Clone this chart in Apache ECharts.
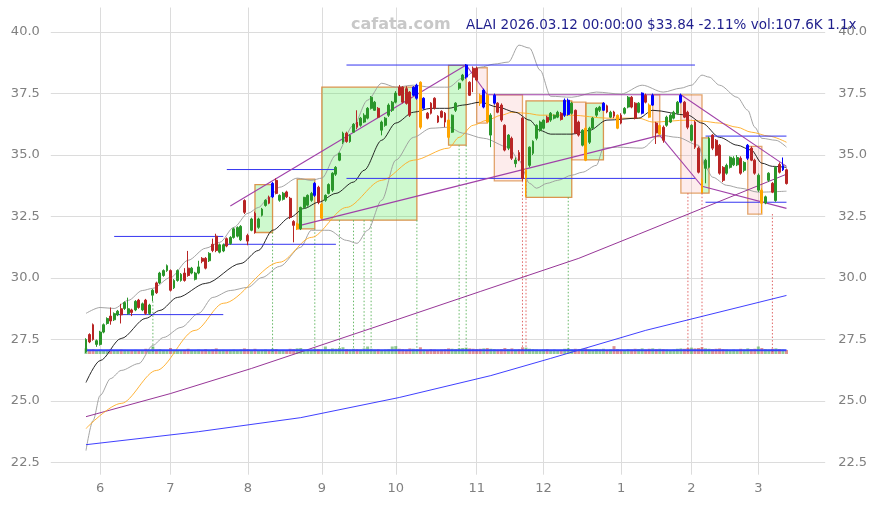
<!DOCTYPE html>
<html><head><meta charset="utf-8">
<script src="https://cdn.jsdelivr.net/npm/echarts@6/dist/echarts.min.js"></script>
<style>html,body{margin:0;padding:0;background:#fff}#c{width:876px;height:505px}</style>
</head><body><div id="c"></div>
<script>
// ---------------- DATA ----------------
const headline = 'ALAI 2026.03.12 00:00:00 $33.84 -2.11% vol:107.6K 1.1x';
const watermark = 'cafata.com';
const firstDay = '2025-05-27';
const tradingDaysCount = 200;
const holidays = ['2025-06-19','2025-07-04','2025-09-01','2025-11-27','2025-12-25','2026-01-01','2026-01-19','2026-02-16'];

// [open, close, low, high]
const candles = [
[27.0,27.5,26.95,27.55],[27.7,27.4,27.35,27.75],[28.1,27.5,27.45,28.15],[27.3,27.45,27.2,27.5],[27.3,27.8,27.25,27.85],
[27.8,28.1,27.75,28.15],[28.15,28.35,28.1,28.4],[28.45,28.25,28.1,28.8],[28.3,28.55,28.25,28.6],[28.5,28.65,28.45,28.7],
[28.75,28.5,28.15,28.95],[28.76,29.0,28.7,29.05],[28.55,28.75,28.5,29.2],[28.7,28.6,28.45,28.75],[28.7,29.05,28.65,29.1],
[29.1,28.8,28.75,29.15],[28.7,28.95,28.65,29.0],[29.1,28.56,28.5,29.15],[28.56,28.9,28.5,28.95],[29.3,29.5,29.05,29.55],
[29.8,29.4,29.35,29.85],[29.8,30.2,29.75,30.25],[30.1,30.3,30.05,30.35],[30.3,30.5,30.25,30.55],[30.3,29.5,29.45,30.35],
[29.6,29.9,29.55,29.95],[29.9,30.3,29.85,30.35],[29.9,30.15,29.85,30.2],[30.2,29.9,29.85,30.4],[30.4,30.1,30.05,31.1],
[30.2,30.4,30.15,30.45],[29.95,30.2,29.9,30.25],[30.2,30.45,30.15,30.7],[30.8,30.68,30.6,30.85],[30.8,30.4,30.35,30.85],
[30.7,31.0,30.65,31.05],[31.37,31.12,31.05,31.6],[31.7,31.12,31.05,31.8],[31.05,31.35,31.0,31.4],[31.1,31.35,31.05,31.4],
[31.6,31.3,31.25,31.65],[31.4,31.65,31.35,31.7],[31.65,32.0,31.6,32.05],[31.7,32.05,31.65,32.1],[31.55,32.1,31.5,32.15],
[33.15,32.67,32.6,33.2],[31.73,31.5,31.33,31.8],[31.94,32.4,31.9,32.45],[32.63,31.85,31.8,32.7],[32.06,32.4,32.0,32.45],
[32.55,32.8,32.5,32.85],[32.95,33.16,32.9,33.2],[33.28,33.04,33.0,33.35],[33.3,33.85,33.25,33.9],[33.97,33.44,33.4,34.05],
[33.16,33.36,33.1,33.4],[33.2,33.45,33.15,33.5],[33.5,33.3,33.25,33.55],[33.24,32.47,32.4,33.3],[32.3,32.14,31.45,32.35],
[32.0,32.2,31.95,32.25],[32.0,32.87,31.95,32.9],[32.87,33.28,32.8,33.3],[32.96,33.36,32.9,33.4],[33.16,33.44,33.1,33.5],
[33.36,33.85,33.3,33.9],[33.69,33.08,33.0,33.75],[32.43,33.0,32.4,33.05],[33.16,33.36,33.1,33.4],[33.44,33.8,33.4,33.85],
[33.57,34.26,33.5,34.3],[34.22,34.5,34.15,34.55],[34.79,35.07,34.75,35.1],[35.52,35.89,35.45,35.95],[35.89,35.55,35.5,35.95],
[35.55,35.8,35.5,35.85],[35.93,36.25,35.9,36.3],[36.34,36.13,36.05,36.82],[36.21,36.5,36.15,36.55],[36.34,36.62,36.3,36.7],
[36.5,36.9,36.45,36.95],[36.9,37.35,36.85,37.4],[36.82,37.15,36.8,37.2],[36.9,36.54,36.5,36.95],[36.01,36.34,35.8,36.4],
[36.21,36.5,36.15,36.55],[36.62,37.03,36.55,37.1],[36.82,37.15,36.75,37.2],[37.15,37.52,37.1,37.6],[37.76,37.43,37.4,37.85],
[37.76,37.15,37.1,37.8],[37.7,37.1,37.05,37.8],[37.56,36.62,36.55,37.6],[37.43,37.76,37.4,37.8],[37.31,37.84,37.25,37.9],
[37.96,36.13,36.05,38.0],[36.9,37.31,36.85,37.35],[36.7,36.5,36.45,36.75],[37.11,36.7,36.65,37.15],[37.31,36.9,36.85,37.35],
[36.58,36.34,36.3,36.62],[36.78,36.54,36.5,36.82],[36.7,36.34,36.13,36.75],[36.42,35.72,35.65,36.45],[35.93,36.62,35.9,36.65],
[36.82,37.11,36.75,37.15],[37.72,37.92,37.65,37.95],[38.05,38.25,38.0,38.3],[38.17,38.66,38.1,38.7],[37.96,37.43,37.4,38.0],
[38.53,38.17,37.56,38.6],[38.53,38.05,38.0,38.6],[37.43,37.11,37.0,37.5],[36.95,37.64,36.9,37.7],[37.43,36.34,36.3,37.5],
[35.81,36.62,35.32,36.7],[37.11,37.43,37.05,37.5],[37.11,36.74,36.7,37.15],[37.03,36.42,36.35,37.1],[36.21,35.2,35.15,36.25],
[35.28,35.81,35.2,35.85],[35.68,34.87,34.8,35.75],[34.65,34.8,34.5,34.9],[35.1,34.8,34.75,35.2],[36.5,34.05,33.95,36.55],
[34.06,34.38,33.3,34.45],[34.58,35.32,34.5,35.35],[35.07,35.56,35.0,35.6],[35.68,36.21,35.6,36.25],[36.01,36.34,35.95,36.4],
[36.09,36.42,36.05,36.45],[36.54,36.34,36.3,36.6],[36.42,36.7,36.35,36.75],[36.5,36.62,36.45,36.65],[36.54,36.74,36.5,36.8],
[36.7,36.45,36.4,36.75],[36.62,37.23,36.55,37.3],[36.65,37.23,36.6,37.3],[36.7,37.11,36.65,37.15],[36.82,35.89,35.85,36.85],
[36.34,35.81,35.75,36.4],[35.4,36.01,35.35,36.05],[36.09,34.79,34.75,36.15],[35.52,36.09,35.45,36.15],[36.09,36.5,36.05,36.55],
[36.62,36.9,36.55,36.95],[36.82,36.95,36.75,37.0],[36.82,37.11,36.8,37.15],[37.0,36.75,36.7,37.05],[36.54,36.74,36.5,36.8],
[36.75,36.58,36.5,36.8],[36.62,36.09,36.05,36.65],[36.62,36.3,36.25,36.7],[36.7,36.9,36.65,36.95],[36.95,37.35,36.9,37.4],
[37.35,36.95,36.9,37.4],[37.11,36.5,36.45,37.15],[36.74,37.11,36.7,37.15],[36.7,37.52,36.65,37.55],[37.43,37.15,37.1,37.5],
[37.03,36.54,36.5,37.1],[37.03,37.43,37.0,37.5],[36.3,35.9,35.45,36.35],[35.85,36.2,35.8,36.25],[36.13,35.6,35.5,36.2],
[36.21,36.54,36.15,36.6],[36.34,36.62,36.3,36.7],[36.5,36.74,36.45,36.8],[36.7,37.15,36.65,37.2],[37.15,37.43,37.1,37.5],
[37.15,36.54,36.5,37.2],[36.74,36.13,36.05,36.8],[35.6,36.21,35.55,36.25],[36.34,35.32,35.25,36.4],[35.28,34.3,34.25,35.35],
[33.97,33.49,33.45,34.05],[34.46,34.79,33.85,34.85],[34.5,35.68,34.45,35.75],[35.81,35.28,35.2,35.85],[35.6,34.99,34.95,35.65],
[35.4,34.26,34.2,35.45],[34.5,33.97,33.9,34.55],[34.26,34.58,34.2,34.65],[34.5,34.91,34.45,34.95],[34.6,34.87,34.55,34.95],
[34.6,34.9,34.55,35.0],[34.87,34.26,34.2,34.95],[34.38,34.7,34.3,34.75],[34.87,35.4,34.8,35.45],[35.28,34.79,34.75,35.35],
[34.79,34.26,34.2,34.85],[33.57,34.18,33.5,34.25],[33.57,33.04,32.63,33.65],[33.05,33.3,33.0,33.35],[33.97,34.26,33.9,34.3],
[33.85,33.49,33.45,33.9],[33.15,34.5,33.1,34.55],[34.62,34.3,34.25,34.7],[34.4,34.57,34.35,34.9],[34.4,33.84,33.8,34.45]
];

// volume in thousands
const volumes = [
150,120,130,110,120,100,110,130,90,100,120,110,100,90,110,100,90,140,110,200,
120,130,110,100,160,110,100,90,110,140,100,90,120,100,130,110,120,150,100,110,
100,110,120,110,120,150,130,110,140,100,110,120,100,140,130,100,110,90,140,130,
150,160,120,110,100,140,130,120,200,130,150,140,160,180,130,120,140,130,120,150,
200,140,120,130,110,120,130,200,210,140,130,120,150,140,130,180,120,110,130,120,
110,120,130,150,140,130,150,160,170,150,140,130,140,150,160,140,130,120,130,160,
130,150,120,130,180,170,140,130,120,110,120,130,110,120,100,110,140,150,120,140,
130,140,150,120,110,130,120,140,110,120,210,130,120,110,130,120,140,130,150,120,
140,150,130,140,130,120,110,120,140,150,140,160,170,150,160,180,150,140,130,140,
150,130,120,110,120,110,140,120,150,130,140,200,160,130,120,140,150,130,120,107.6
];
const volumeAvg = 98;

const blueDays = [53,65,93,94,96,108,113,116,136,137,147,158,161,169,188,198];
const orangeDays = [60,67,95,103,112,114,125,142,151,160,163,175,192];

// moving averages / bands: [day index, value]
const ma20 = [[0,25.75],[4,26.64],[10,27.54],[17,28.36],[21,28.68],[26,29.21],[34,29.78],[44,30.59],[49,31.12],[53,31.94],[58,32.47],[62,32.83],[66,33.08],[71,33.44],[76,33.9],[79,34.38],[84,35.6],[88,36.3],[93,36.74],[98,36.9],[103,36.9],[107,37.03],[112,37.15],[117,36.95],[122,36.74],[126,36.42],[129,36.0],[132,35.85],[138,35.85],[143,36.0],[148,36.42],[157,36.5],[161,36.82],[171,36.62],[175,36.3],[180,35.72],[185,35.4],[189,35.2],[192,34.67],[195,34.54],[199,34.5]];
const ma50 = [[0,23.88],[10,24.9],[20,26.24],[31,27.87],[39,28.97],[55,30.64],[64,31.65],[74,32.87],[84,33.97],[93,34.79],[103,35.28],[106,35.72],[110,36.21],[114,36.42],[118,36.62],[121,36.74],[125,36.7],[129,36.62],[138,36.62],[148,36.5],[157,36.5],[161,36.34],[171,36.42],[175,36.38],[180,36.3],[185,36.13],[189,35.93],[194,35.77],[199,35.52]];
const ma100 = [[0,24.36],[24,25.3],[47,26.32],[81,27.95],[112,29.45],[140,30.8],[157,31.78],[199,34.22]];
const ma200 = [[0,23.22],[32,23.75],[61,24.32],[89,25.14],[115,26.03],[132,26.73],[159,27.87],[199,29.29]];
const bandUpper = [[0,28.56],[4,28.8],[8,28.76],[12,29.09],[16,29.49],[19,29.58],[24,30.02],[29,30.72],[34,31.21],[38,31.45],[42,32.06],[46,32.63],[49,32.87],[52,33.28],[55,33.69],[60,34.06],[64,33.97],[67,34.06],[71,35.0],[76,36.21],[80,37.23],[84,37.92],[88,37.76],[93,37.84],[98,37.76],[103,37.76],[107,38.13],[112,38.57],[116,38.7],[120,38.78],[123,39.47],[126,39.35],[129,38.45],[132,37.39],[138,37.35],[145,37.56],[152,37.48],[158,37.84],[164,37.56],[169,37.72],[172,37.84],[175,38.25],[177,38.17],[180,37.84],[185,37.35],[188,36.82],[190,36.13],[192,35.68],[196,35.6],[199,35.32]];
const bandLower = [[0,22.98],[2,24.2],[4,25.22],[7,25.91],[10,26.24],[15,26.52],[19,27.26],[22,27.58],[27,27.99],[32,28.56],[36,29.21],[41,29.49],[46,29.62],[50,30.02],[55,30.47],[61,31.25],[64,31.94],[69,31.94],[74,31.53],[77,31.41],[80,31.94],[84,33.16],[88,34.79],[93,35.72],[98,36.09],[103,36.13],[107,35.89],[113,35.68],[120,35.32],[123,34.79],[126,33.85],[128,33.65],[131,33.85],[134,33.97],[138,34.18],[141,34.3],[145,34.58],[147,35.28],[151,35.32],[158,35.28],[163,35.81],[168,35.72],[174,35.4],[176,34.5],[178,34.1],[182,33.77],[186,33.65],[191,33.49],[199,33.53]];

// boxes: [fromDay, toDay, low, high]
const greenBoxes = [[48,53,31.85,33.8],[60,65,32.0,34.02],[67,94,32.35,37.76],[103,108,35.4,38.65],[125,138,33.28,37.2],[142,147,34.8,37.11],[175,177,33.45,35.7]];
const redBoxes = [[111,114,36.3,38.55],[116,124,33.95,37.45],[138,142,34.8,37.15],[161,163,35.75,37.45],[169,175,33.45,37.45],[188,192,32.6,35.35]];
// horizontal levels: [fromDay, toDay, value]
const levels = [[8,39,28.51],[8,39,31.69],[39,71,31.37],[40,71,34.41],[74,173,34.05],[74,173,38.66],[176,199,35.77],[176,199,33.08]];
// trend lines: [day0, value0, day1, value1]
const trendLines = [[41,32.93,108,38.66],[60,32.11,163,35.8],[163,35.8,175,33.73],[175,33.73,199,32.83],[114,37.45,169,37.45],[169,37.45,199,34.54],[108,38.66,114,37.45]];
// signals: [day, top value]
const greenSignals = [[19,29.05],[53,31.86],[65,32.0],[72,32.35],[76,32.35],[79,32.35],[81,32.35],[94,32.35],[106,35.4],[108,35.4],[137,33.28]];
const redSignals = [[124,33.95],[125,33.95],[171,33.45],[175,33.45],[195,32.6]];
const signalFloor = 27.0;

// ---------------- BUILD ----------------
function tradingDays(start, n, hol) {
  const out = []; const d = new Date(start + 'T12:00:00Z'); const hs = new Set(hol);
  while (out.length < n) {
    const s = d.toISOString().slice(0,10); const wd = d.getUTCDay();
    if (wd !== 0 && wd !== 6 && !hs.has(s)) out.push(s);
    d.setUTCDate(d.getUTCDate() + 1);
  }
  return out;
}
const dates = tradingDays(firstDay, tradingDaysCount, holidays);
const PAD_L = 10, PAD_R = 11;
const cats = [];
for (let k = 0; k < PAD_L; k++) cats.push('padL' + k);
dates.forEach(d => cats.push(d));
for (let k = 0; k < PAD_R; k++) cats.push('padR' + k);
const monthStarts = new Set();
dates.forEach((d, i) => { if (i > 0 && d.slice(5,7) !== dates[i-1].slice(5,7)) monthStarts.add(i + PAD_L); });
const K = i => i + PAD_L;

const UP = '#2a962a', DOWN = '#b82525', BLUE = '#0000ff', ORANGE = '#ffa500';
const blueSet = new Set(blueDays), orangeSet = new Set(orangeDays);
const candleData = cats.map((c, k) => {
  const i = k - PAD_L;
  if (i < 0 || i >= candles.length) return '-';
  const v = candles[i];
  let col = null;
  if (blueSet.has(i)) col = BLUE; else if (orangeSet.has(i)) col = ORANGE;
  if (col) return { value: v, itemStyle: { color: col, color0: col, borderColor: col, borderColor0: col } };
  return v;
});
const volData = cats.map((c, k) => {
  const i = k - PAD_L;
  if (i < 0 || i >= volumes.length) return '-';
  const up = candles[i][1] >= candles[i][0];
  return { value: volumes[i], itemStyle: { color: up ? 'rgba(40,150,40,0.5)' : 'rgba(190,40,40,0.5)' } };
});
const toPts = arr => arr.map(p => [K(p[0]), p[1]]);

const series = [];
// boxes
series.push({ type: 'line', data: [], z: 1, silent: true,
  markArea: { silent: true, itemStyle: { color: 'rgba(60,230,60,0.25)', borderColor: 'rgba(215,130,50,0.85)', borderWidth: 1.3 },
    data: greenBoxes.map(b => [{ coord: [K(b[0]), b[2]] }, { coord: [K(b[1]), b[3]] }]) } });
series.push({ type: 'line', data: [], z: 1, silent: true,
  markArea: { silent: true, itemStyle: { color: 'rgba(245,150,150,0.18)', borderColor: 'rgba(215,130,50,0.7)', borderWidth: 1.3 },
    data: redBoxes.map(b => [{ coord: [K(b[0]), b[2]] }, { coord: [K(b[1]), b[3]] }]) } });
// signals
greenSignals.forEach(s => series.push({ type: 'line', z: 1, symbol: 'none', silent: true,
  data: [[K(s[0]), s[1]], [K(s[0]), signalFloor]], lineStyle: { color: '#55b055', width: 0.9, type: [1.5, 2] } }));
redSignals.forEach(s => series.push({ type: 'line', z: 1, symbol: 'none', silent: true,
  data: [[K(s[0]), s[1]], [K(s[0]), signalFloor]], lineStyle: { color: '#dd5555', width: 0.9, type: [1.5, 2] } }));
// MA / bands
const lineS = (d, color, w, sm) => ({ type: 'line', z: 2, symbol: 'none', silent: true, smooth: sm, smoothMonotone: 'x',
  data: toPts(d), lineStyle: { color, width: w } });
series.push(lineS(bandUpper, '#9a9a9a', 0.9, 0.3));
series.push(lineS(bandLower, '#9a9a9a', 0.9, 0.3));
series.push(lineS(ma200, '#2a2aff', 0.9, false));
series.push(lineS(ma100, '#8b1f8b', 0.9, false));
series.push(lineS(ma50, '#ffaa22', 0.9, 0.3));
series.push(lineS(ma20, '#111111', 0.9, 0.3));
// levels
levels.forEach(l => series.push({ type: 'line', z: 2, symbol: 'none', silent: true,
  data: [[K(l[0]), l[2]], [K(l[1]), l[2]]], lineStyle: { color: '#3535f0', width: 1 } }));
// trend lines
trendLines.forEach(t => series.push({ type: 'line', z: 2, symbol: 'none', silent: true,
  data: [[K(t[0]), t[1]], [K(t[2]), t[3]]], lineStyle: { color: '#a040a8', width: 1.1 } }));
// candles
series.push({ type: 'candlestick', z: 3, barWidth: 2.4, data: candleData,
  itemStyle: { color: UP, color0: DOWN, borderColor: UP, borderColor0: DOWN, borderWidth: 1 } });
// volume
series.push({ type: 'bar', xAxisIndex: 1, yAxisIndex: 2, barWidth: 3, data: volData, z: 2 });
series.push({ type: 'line', xAxisIndex: 1, yAxisIndex: 2, symbol: 'none', z: 3,
  data: [[K(0), volumeAvg], [K(volumes.length - 1), volumeAvg]], lineStyle: { color: '#3344ff', width: 2 } });

const isMajor = v => Math.abs(v / 2.5 - Math.round(v / 2.5)) < 1e-6;
const yLabel = { color: '#808080', fontSize: 13, fontFamily: 'DejaVu Sans', formatter: v => isMajor(v) ? v.toFixed(1) : '' };
const T = 'rgba(0,0,0,0)';

const option = {
  animation: false,
  backgroundColor: '#ffffff',
  grid: [
    { left: 50.8, width: 774.4, top: 7.5, height: 467.2 },
    { left: 50.8, width: 774.4, top: 324, height: 30 }
  ],
  xAxis: [
    { type: 'category', data: cats, boundaryGap: false, gridIndex: 0,
      axisLine: { show: false }, axisTick: { show: false },
      axisLabel: { interval: (idx) => monthStarts.has(idx), color: '#808080', fontSize: 13, fontFamily: 'DejaVu Sans', margin: 7,
        formatter: v => String(Number(v.slice(5,7))) },
      splitLine: { show: true, interval: (idx) => monthStarts.has(idx), lineStyle: { color: '#dcdcdc', width: 1 } } },
    { type: 'category', data: cats, boundaryGap: false, gridIndex: 1, show: false }
  ],
  yAxis: [
    { type: 'value', min: 22, max: 41, interval: 0.5, gridIndex: 0, position: 'left',
      axisLine: { show: false }, axisTick: { show: false }, axisLabel: Object.assign({ margin: 11 }, yLabel),
      splitLine: { show: true, lineStyle: { color: [T, '#dcdcdc', T, T, T], width: 1 } } },
    { type: 'value', min: 22, max: 41, interval: 0.5, gridIndex: 0, position: 'right',
      axisLine: { show: false }, axisTick: { show: false }, axisLabel: Object.assign({ margin: 13 }, yLabel),
      splitLine: { show: false } },
    { type: 'value', min: 0, max: 800, gridIndex: 1, show: false, splitLine: { show: false } }
  ],
  graphic: [
    { type: 'text', z: 100, style: { x: 351, y: 24.4, text: watermark, fill: '#c8c8c8', font: 'bold 16px "DejaVu Sans"', verticalAlign: 'middle' } },
    { type: 'text', z: 100, style: { x: 466, y: 25.3, text: headline, fill: '#1e1e8c', font: '13.5px "DejaVu Sans"', verticalAlign: 'middle' } }
  ],
  series
};
const chart = echarts.init(document.getElementById('c'), null, { renderer: 'canvas' });
chart.setOption(option);
</script>
</body></html>
